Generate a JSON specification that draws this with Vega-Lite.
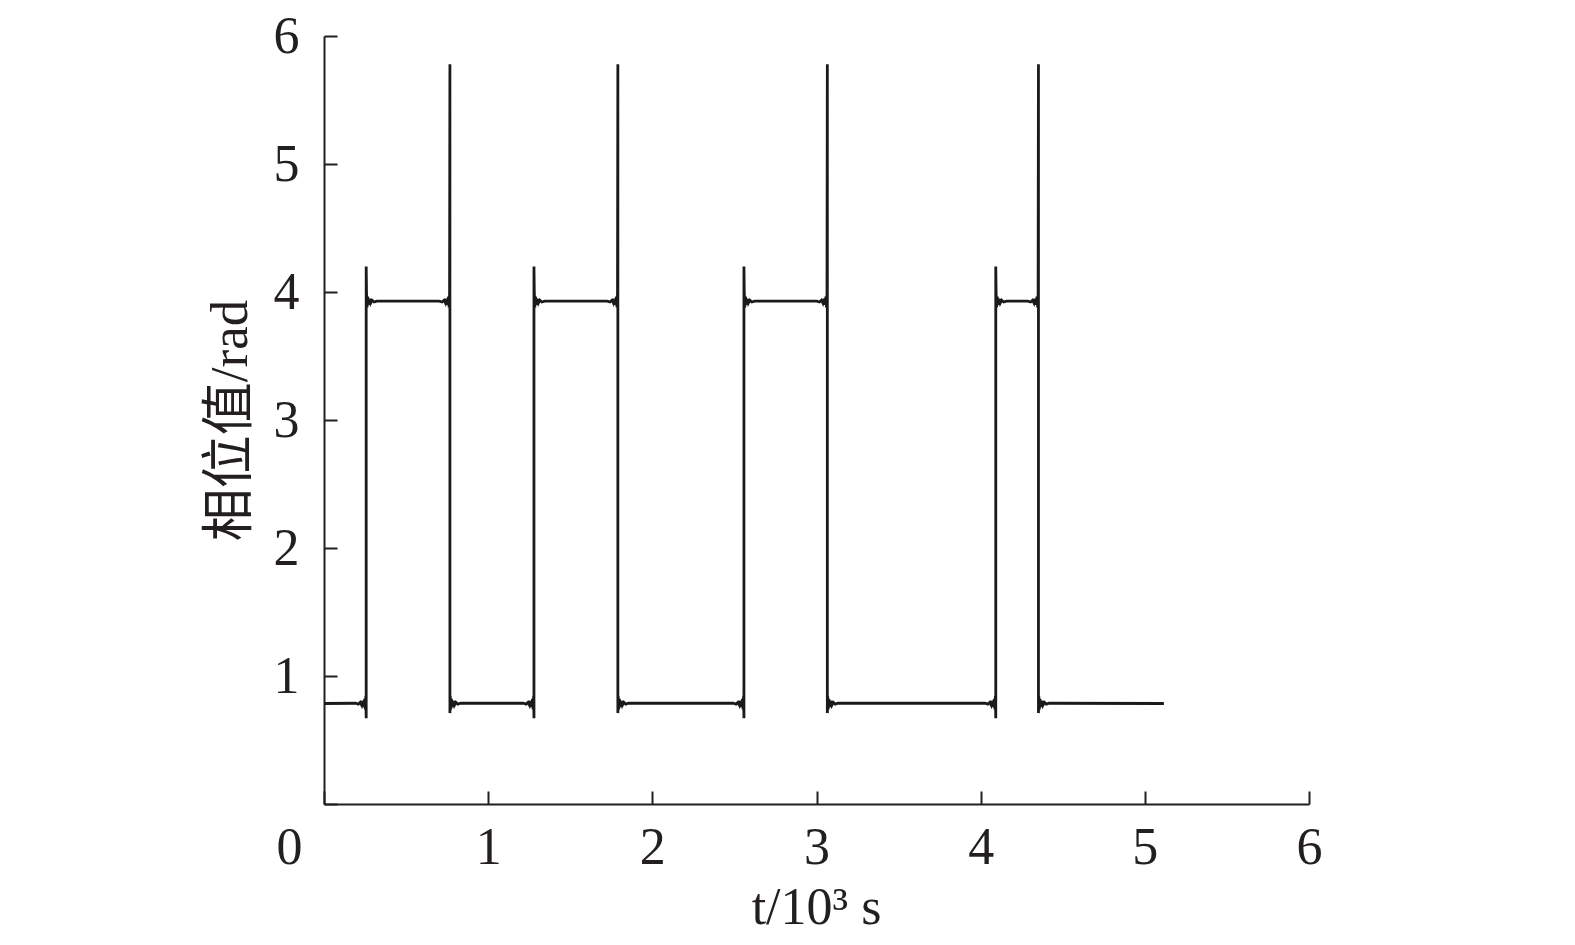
{
  "$schema": "https://vega.github.io/schema/vega-lite/v6.json",
  "autosize": "none",
  "width": 985,
  "height": 768,
  "padding": {"left": 324, "top": 36, "right": 266, "bottom": 141},
  "background": "white",
  "config": {"view": {"stroke": null}},
  "data": {"values": [
    {"t":0,"v":0.785},
    {"t":0.192,"v":0.787},{"t":0.209,"v":0.780},{"t":0.221,"v":0.794},{"t":0.230,"v":0.771},{"t":0.237,"v":0.805},{"t":0.243,"v":0.758},{"t":0.248,"v":0.821},{"t":0.252,"v":0.738},{"t":0.255,"v":0.845},
    {"t":0.257,"v":0.67},{"t":0.257,"v":4.20},
    {"t":0.259,"v":3.987},{"t":0.262,"v":3.880},{"t":0.266,"v":3.963},{"t":0.271,"v":3.900},{"t":0.277,"v":3.947},{"t":0.284,"v":3.913},{"t":0.293,"v":3.936},{"t":0.305,"v":3.922},{"t":0.322,"v":3.929},
    {"t":0.702,"v":3.929},{"t":0.719,"v":3.922},{"t":0.731,"v":3.936},{"t":0.740,"v":3.913},{"t":0.747,"v":3.947},{"t":0.753,"v":3.900},{"t":0.758,"v":3.963},{"t":0.762,"v":3.880},{"t":0.765,"v":3.987},
    {"t":0.767,"v":5.78},{"t":0.767,"v":0.71},
    {"t":0.769,"v":0.845},{"t":0.772,"v":0.738},{"t":0.776,"v":0.821},{"t":0.781,"v":0.758},{"t":0.787,"v":0.805},{"t":0.794,"v":0.771},{"t":0.803,"v":0.794},{"t":0.815,"v":0.780},{"t":0.832,"v":0.787},
    {"t":1.214,"v":0.787},{"t":1.231,"v":0.780},{"t":1.243,"v":0.794},{"t":1.252,"v":0.771},{"t":1.259,"v":0.805},{"t":1.265,"v":0.758},{"t":1.270,"v":0.821},{"t":1.274,"v":0.738},{"t":1.277,"v":0.845},
    {"t":1.279,"v":0.67},{"t":1.279,"v":4.20},
    {"t":1.281,"v":3.987},{"t":1.284,"v":3.880},{"t":1.288,"v":3.963},{"t":1.293,"v":3.900},{"t":1.299,"v":3.947},{"t":1.306,"v":3.913},{"t":1.315,"v":3.936},{"t":1.327,"v":3.922},{"t":1.344,"v":3.929},
    {"t":1.725,"v":3.929},{"t":1.742,"v":3.922},{"t":1.754,"v":3.936},{"t":1.763,"v":3.913},{"t":1.770,"v":3.947},{"t":1.776,"v":3.900},{"t":1.781,"v":3.963},{"t":1.785,"v":3.880},{"t":1.788,"v":3.987},
    {"t":1.790,"v":5.78},{"t":1.790,"v":0.71},
    {"t":1.792,"v":0.845},{"t":1.795,"v":0.738},{"t":1.799,"v":0.821},{"t":1.804,"v":0.758},{"t":1.810,"v":0.805},{"t":1.817,"v":0.771},{"t":1.826,"v":0.794},{"t":1.838,"v":0.780},{"t":1.855,"v":0.787},
    {"t":2.493,"v":0.787},{"t":2.510,"v":0.780},{"t":2.522,"v":0.794},{"t":2.531,"v":0.771},{"t":2.538,"v":0.805},{"t":2.544,"v":0.758},{"t":2.549,"v":0.821},{"t":2.553,"v":0.738},{"t":2.556,"v":0.845},
    {"t":2.558,"v":0.67},{"t":2.558,"v":4.20},
    {"t":2.560,"v":3.987},{"t":2.563,"v":3.880},{"t":2.567,"v":3.963},{"t":2.572,"v":3.900},{"t":2.578,"v":3.947},{"t":2.585,"v":3.913},{"t":2.594,"v":3.936},{"t":2.606,"v":3.922},{"t":2.623,"v":3.929},
    {"t":3.001,"v":3.929},{"t":3.018,"v":3.922},{"t":3.030,"v":3.936},{"t":3.039,"v":3.913},{"t":3.046,"v":3.947},{"t":3.052,"v":3.900},{"t":3.057,"v":3.963},{"t":3.061,"v":3.880},{"t":3.064,"v":3.987},
    {"t":3.066,"v":5.78},{"t":3.066,"v":0.71},
    {"t":3.068,"v":0.845},{"t":3.071,"v":0.738},{"t":3.075,"v":0.821},{"t":3.080,"v":0.758},{"t":3.086,"v":0.805},{"t":3.093,"v":0.771},{"t":3.102,"v":0.794},{"t":3.114,"v":0.780},{"t":3.131,"v":0.787},
    {"t":4.027,"v":0.787},{"t":4.044,"v":0.780},{"t":4.056,"v":0.794},{"t":4.065,"v":0.771},{"t":4.072,"v":0.805},{"t":4.078,"v":0.758},{"t":4.083,"v":0.821},{"t":4.087,"v":0.738},{"t":4.090,"v":0.845},
    {"t":4.092,"v":0.67},{"t":4.092,"v":4.20},
    {"t":4.094,"v":3.987},{"t":4.097,"v":3.880},{"t":4.101,"v":3.963},{"t":4.106,"v":3.900},{"t":4.112,"v":3.947},{"t":4.119,"v":3.913},{"t":4.128,"v":3.936},{"t":4.140,"v":3.922},{"t":4.157,"v":3.929},
    {"t":4.287,"v":3.929},{"t":4.304,"v":3.922},{"t":4.316,"v":3.936},{"t":4.325,"v":3.913},{"t":4.332,"v":3.947},{"t":4.338,"v":3.900},{"t":4.343,"v":3.963},{"t":4.347,"v":3.880},{"t":4.350,"v":3.987},
    {"t":4.352,"v":5.78},{"t":4.352,"v":0.71},
    {"t":4.354,"v":0.845},{"t":4.357,"v":0.738},{"t":4.361,"v":0.821},{"t":4.366,"v":0.758},{"t":4.372,"v":0.805},{"t":4.379,"v":0.771},{"t":4.388,"v":0.794},{"t":4.400,"v":0.780},{"t":4.417,"v":0.787},
    {"t":5.116,"v":0.785}
  ]},
  "mark": {"type": "line", "color": "#1a1a1a", "strokeWidth": 2.8, "clip": false},
  "encoding": {
    "x": {
      "field": "t", "type": "quantitative",
      "scale": {"domain": [0, 6], "nice": false, "zero": false},
      "axis": {
        "values": [0, 1, 2, 3, 4, 5, 6],
        "grid": false,
        "domainColor": "#231f20", "domainWidth": 2,
        "tickColor": "#231f20", "tickWidth": 2, "tickSize": -13,
        "labelFont": "Liberation Serif", "labelFontSize": 52, "labelColor": "#231f20",
        "labelBaseline": "alphabetic", "labelPadding": 72, "labelFlush": false,
        "labelOffset": {"condition": {"test": "datum.value === 0", "value": -35}, "value": 0},
        "title": "t/10³ s",
        "titleFont": "Liberation Serif", "titleFontSize": 52, "titleFontWeight": "normal", "titleColor": "#231f20",
        "titleX": 492, "titleY": 119, "titleAlign": "center", "titleBaseline": "alphabetic"
      }
    },
    "y": {
      "field": "v", "type": "quantitative",
      "scale": {"domain": [0, 6], "nice": false},
      "axis": {
        "values": [0, 1, 2, 3, 4, 5, 6],
        "labelExpr": "datum.value === 0 ? '' : datum.label",
        "grid": false,
        "domainColor": "#231f20", "domainWidth": 2,
        "tickColor": "#231f20", "tickWidth": 2, "tickSize": -13,
        "labelFont": "Liberation Serif", "labelFontSize": 52, "labelColor": "#231f20",
        "labelBaseline": "middle", "labelPadding": 38, "labelFlush": false,
        "title": "相位值/rad",
        "titleFont": "Liberation Serif, Noto Sans CJK SC", "titleFontSize": 53, "titleFontWeight": "normal", "titleColor": "#231f20",
        "titleAngle": -90, "titleX": -94, "titleY": 384, "titleAlign": "center", "titleBaseline": "middle"
      }
    },
    "order": {"value": null}
  }
}
